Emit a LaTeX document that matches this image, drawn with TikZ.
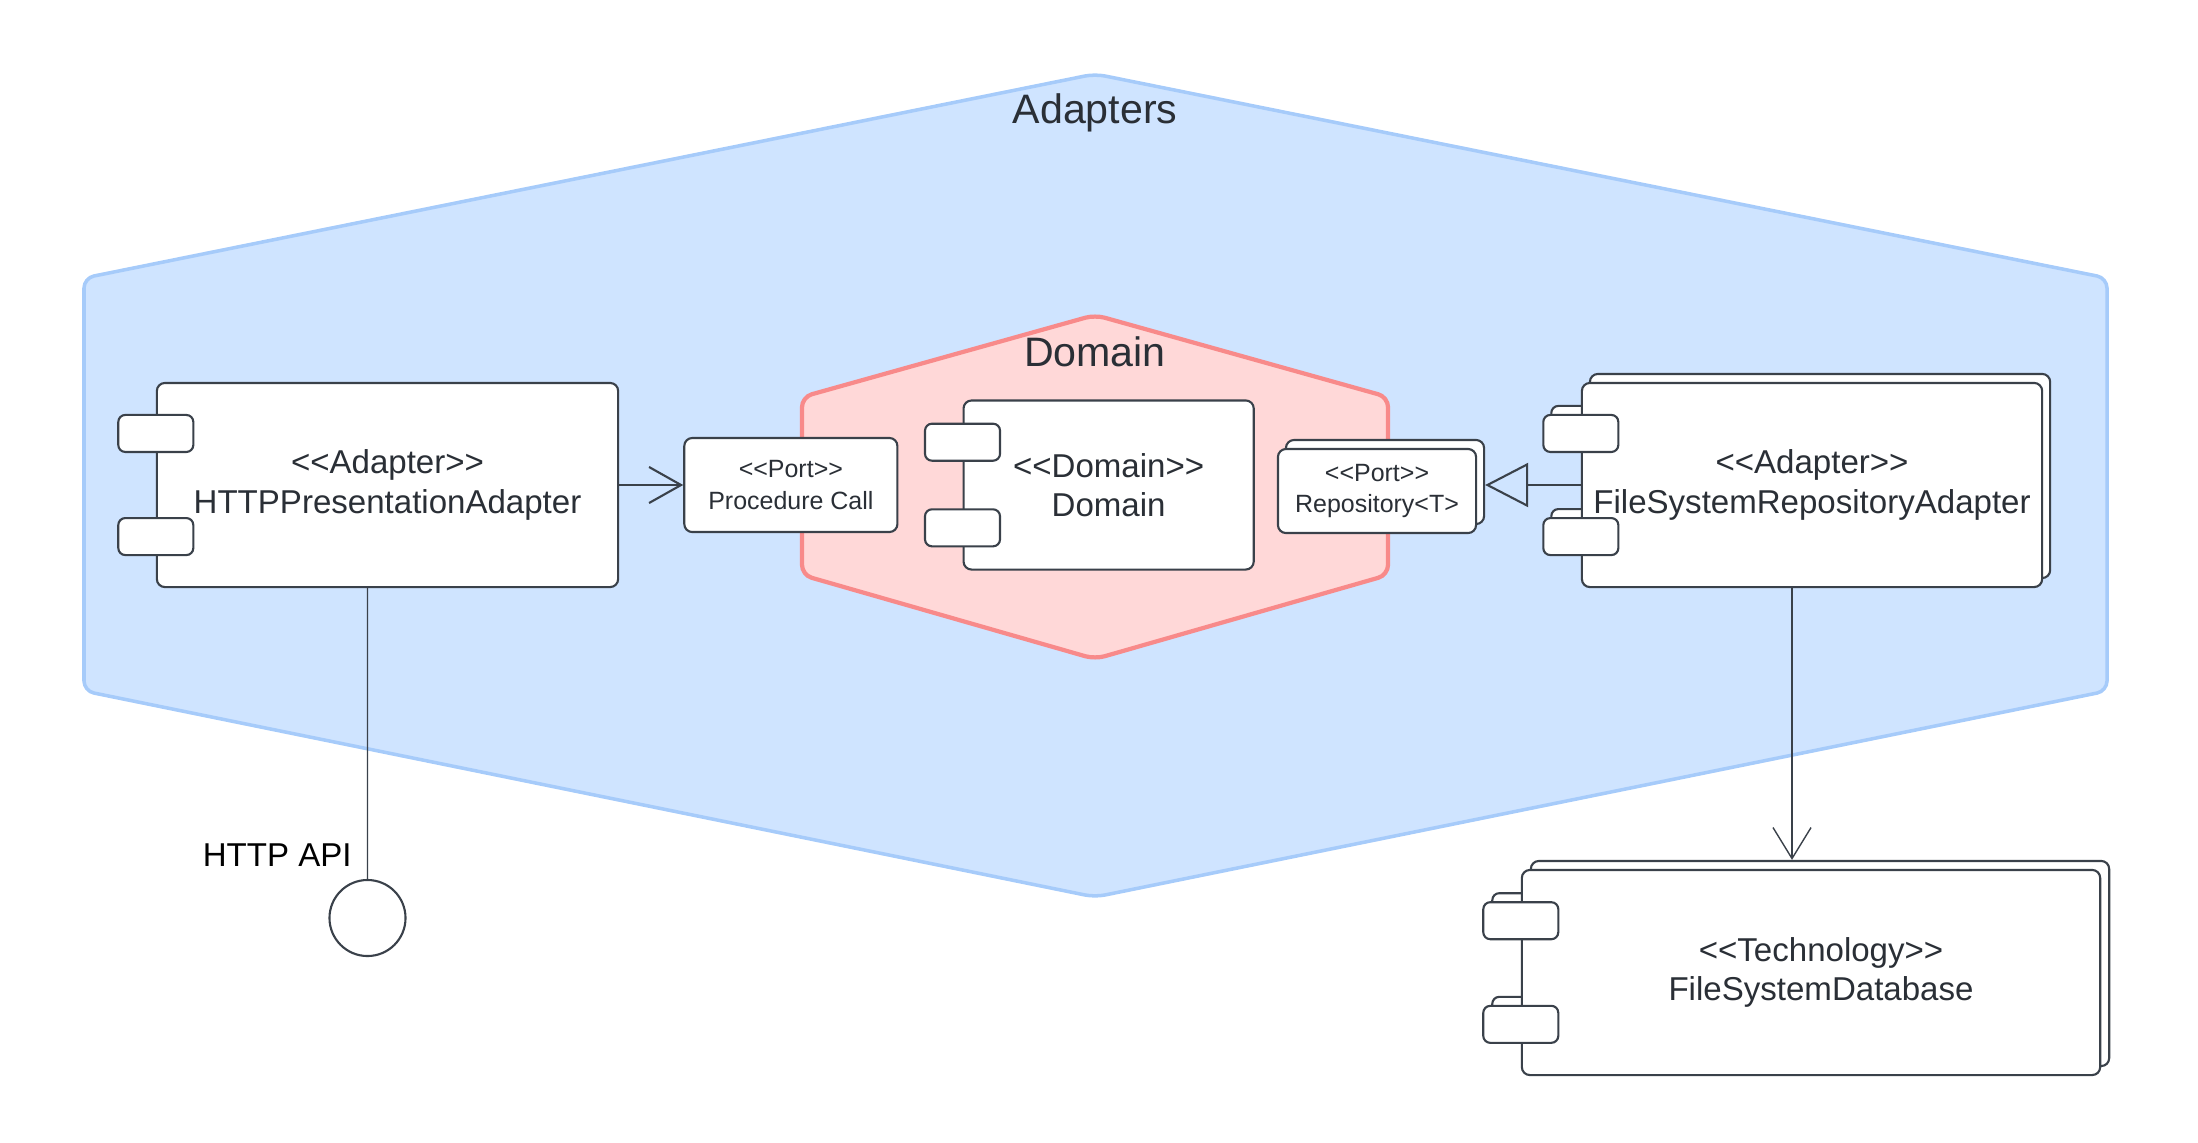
\documentclass[tikz,border=0pt]{standalone}
\usepackage{fontspec}
\setmainfont{Liberation Sans}[Ligatures=TeXOff]
\usetikzlibrary{calc}
\usetikzlibrary{arrows.meta, positioning}

\definecolor{hexBlue}{RGB}{207,228,255}
\definecolor{hexBlueLine}{RGB}{166,203,250}
\definecolor{hexRed}{RGB}{255,216,216}
\definecolor{hexRedLine}{RGB}{248,138,138}
\definecolor{umlLine}{RGB}{58,65,74}
\definecolor{umlText}{RGB}{42,47,54}

\begin{document}
\begin{tikzpicture}[
    x=0.01cm, y=-0.01cm, % 1 unit = 1 pixel of the layout
    node distance=0.65cm and 0.64cm,
    comp/.style={
      rectangle,
      rounded corners=0.08cm,
      draw=umlLine,
      fill=white,
      line width=0.6pt,
      inner sep=0pt,
      align=center,
      text=umlText,
      font=\fontsize{9.4}{11.2}\selectfont
    },
    portbox/.style={
      comp,
      font=\fontsize{7.1}{8.9}\selectfont
    },
    port/.style={
      rectangle,
      rounded corners=0.07cm,
      draw=umlLine,
      fill=white,
      line width=0.6pt,
      minimum width=0.75cm,
      minimum height=0.37cm
    },
    hexlabel/.style={
      text=umlText,
      font=\fontsize{11.7}{14}\selectfont
    },
    link/.style={
      draw=umlLine,
      line width=0.6pt
    },
    wire/.style={
      draw=umlLine,
      line width=0.4pt
    }
  ]

  % Khung ngoai
  \useasboundingbox (0,0) rectangle (2198,1142);

  % Luc giac Adapters
  \filldraw[fill=hexBlue, draw=hexBlueLine, line width=1pt, rounded corners=0.1cm]
    (1095,74) -- (2107,278) -- (2107,691) -- (1095,897) -- (84,691) -- (84,278) -- cycle;
  \node[hexlabel] (adaptersTitle) at (1095,113) {Adapters};

  % Luc giac Domain
  \filldraw[fill=hexRed, draw=hexRedLine, line width=1.2pt, rounded corners=0.1cm]
    (1095,315) -- (1388,397) -- (1388,575) -- (1095,659) -- (802,575) -- (802,397) -- cycle;
  \node[hexlabel] (domainTitle) at (1095,352) {Domain};

  % Hang tren
  \node[comp, minimum width=4.61cm, minimum height=2.04cm] (http) at (387.5,485)
    {<<Adapter>>\\HTTPPresentationAdapter};
  \node[port] (httpP1) at ($(http.north west)!0.25!(http.south west)$) {};
  \node[port] (httpP2) at ($(http.north west)!0.75!(http.south west)$) {};

  \node[portbox, minimum width=2.13cm, minimum height=0.94cm, right=of http] (proc)
    {<<Port>>\\Procedure Call};

  \node[comp, minimum width=2.90cm, minimum height=1.69cm, right=of proc] (dom)
    {<<Domain>>\\Domain};
  \node[port] (domP1) at ($(dom.north west)!0.25!(dom.south west)$) {};
  \node[port] (domP2) at ($(dom.north west)!0.75!(dom.south west)$) {};

  % Repository (hai lop)
  \node[portbox, minimum width=1.98cm, minimum height=0.84cm] (repoBack) at (1385,482) {};
  \node[portbox, minimum width=1.98cm, minimum height=0.84cm] (repo) at ([shift={(-8,9)}]repoBack.center)
    {<<Port>>\\Repository<T>};

  % FileSystemRepositoryAdapter (hai lop)
  \node[comp, minimum width=4.60cm, minimum height=2.04cm] (fsraBack) at (1820,476) {};
  \node[port] (fsraBackP1) at ($(fsraBack.north west)!0.25!(fsraBack.south west)$) {};
  \node[port] (fsraBackP2) at ($(fsraBack.north west)!0.75!(fsraBack.south west)$) {};
  \node[comp, minimum width=4.60cm, minimum height=2.04cm] (fsra) at ([shift={(-8,9)}]fsraBack.center)
    {<<Adapter>>\\FileSystemRepositoryAdapter};
  \node[port] (fsraP1) at ($(fsra.north west)!0.25!(fsra.south west)$) {};
  \node[port] (fsraP2) at ($(fsra.north west)!0.75!(fsra.south west)$) {};

  % FileSystemDatabase (hai lop)
  \node[comp, minimum width=5.78cm, minimum height=2.05cm] (fsdbBack) at (1820,963.5) {};
  \node[port] (fsdbBackP1) at ($(fsdbBack.north west)!0.25!(fsdbBack.south west)$) {};
  \node[port] (fsdbBackP2) at ($(fsdbBack.north west)!0.75!(fsdbBack.south west)$) {};
  \node[comp, minimum width=5.78cm, minimum height=2.05cm] (fsdb) at ([shift={(-9,9)}]fsdbBack.center)
    {\hspace{0.2cm}<<Technology>>\\\hspace{0.2cm}FileSystemDatabase};
  \node[port] (fsdbP1) at ($(fsdb.north west)!0.25!(fsdb.south west)$) {};
  \node[port] (fsdbP2) at ($(fsdb.north west)!0.75!(fsdb.south west)$) {};

  % Giao dien HTTP API
  \node[circle, draw=umlLine, line width=0.6pt, fill=white, minimum size=0.76cm, inner sep=0pt]
    (api) at (367.5,918) {};
  \node[anchor=east, font=\fontsize{9.4}{11.2}\selectfont] (apiLabel) at (364,855) {HTTP API};

  % Cac mui ten
  \draw[link, -{Straight Barb[length=0.32cm, width=0.36cm]}] (http.east) -- (proc.west);
  \draw[link, -{Triangle[open, length=0.43cm, width=0.44cm]}] (fsra.west) -- (fsra.west -| repoBack.east);
  \draw[wire, -{Straight Barb[length=0.31cm, width=0.38cm]}]
    ([xshift=-0.2cm]fsra.south) -- ([xshift=-0.2cm]fsra.south |- fsdbBack.north);
  \draw[wire] ([xshift=-0.2cm]http.south) -- (api.north);

\end{tikzpicture}
\end{document}
